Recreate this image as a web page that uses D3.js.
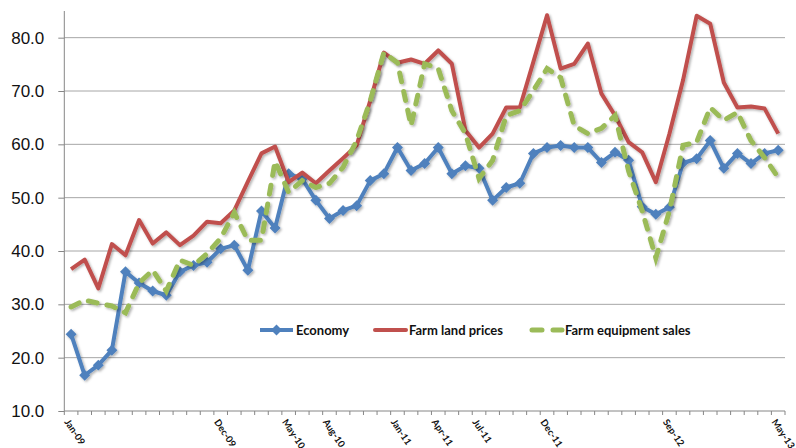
<!DOCTYPE html>
<html>
<head>
<meta charset="utf-8">
<script src="https://cdn.jsdelivr.net/npm/d3@7"></script>
<style>
  body { margin: 0; background: #fff; }
  svg { display: block; }
</style>
</head>
<body>
<div id="chart"></div>
<script>
// months Jan-09 .. May-13
const months = [
  "Jan-09","Feb-09","Mar-09","Apr-09","May-09","Jun-09","Jul-09","Aug-09","Sep-09","Oct-09","Nov-09","Dec-09",
  "Jan-10","Feb-10","Mar-10","Apr-10","May-10","Jun-10","Jul-10","Aug-10","Sep-10","Oct-10","Nov-10","Dec-10",
  "Jan-11","Feb-11","Mar-11","Apr-11","May-11","Jun-11","Jul-11","Aug-11","Sep-11","Oct-11","Nov-11","Dec-11",
  "Jan-12","Feb-12","Mar-12","Apr-12","May-12","Jun-12","Jul-12","Aug-12","Sep-12","Oct-12","Nov-12","Dec-12",
  "Jan-13","Feb-13","Mar-13","Apr-13","May-13"
];
const shownLabels = ["Jan-09","Dec-09","May-10","Aug-10","Jan-11","Apr-11","Jul-11","Dec-11","Sep-12","May-13"];

const economy = [
  24.4, 16.7, 18.6, 21.4, 36.1, 34.0, 32.5, 31.7, 36.1, 37.3, 37.9, 40.4,
  41.1, 36.4, 47.5, 44.3, 54.5, 53.5, 49.5, 46.1, 47.6, 48.5, 53.2, 54.5,
  59.4, 55.1, 56.4, 59.4, 54.5, 56.0, 55.5, 49.5, 51.9, 52.7, 58.3, 59.4,
  59.8, 59.4, 59.4, 56.6, 58.5, 57.0, 48.3, 46.9, 48.2, 56.5, 57.3, 60.7,
  55.5, 58.3, 56.4, 58.3, 58.9
];
const farmLand = [
  36.6, 38.4, 33.0, 41.3, 39.2, 45.8, 41.4, 43.5, 41.1, 42.9, 45.5, 45.2,
  47.6, 53.0, 58.3, 59.6, 52.9, 54.7, 52.7, 55.1, 57.4, 59.8, 68.2, 77.2,
  75.3, 75.9, 75.1, 77.6, 75.1, 62.6, 59.4, 62.0, 66.9, 66.9, 75.5, 84.2,
  74.2, 75.1, 78.9, 69.5, 65.4, 60.4, 58.5, 52.9, 62.0, 72.0, 84.1, 82.6,
  71.6, 66.9, 67.1, 66.7, 62.0
];
const farmEquipment = [
  29.5, 30.8, 30.2, 29.7, 28.4, 34.0, 36.4, 32.5, 38.3, 37.3, 39.5, 42.4,
  47.2, 42.0, 42.0, 56.8, 51.0, 53.2, 51.9, 52.7, 55.7, 60.7, 68.2, 77.2,
  75.3, 63.5, 75.1, 74.2, 66.3, 62.0, 53.6, 57.0, 65.4, 66.3, 70.1, 74.2,
  72.5, 63.5, 62.0, 63.0, 65.4, 55.0, 47.5, 38.7, 47.5, 59.8, 60.4, 66.9,
  64.5, 66.0, 60.7, 57.5, 53.8
];
const seriesNames = ["Economy", "Farm land prices", "Farm equipment sales"];
const yTicks = [10, 20, 30, 40, 50, 60, 70, 80];

const width = 796, height = 448;
const plot = { left: 64.3, right: 785, top: 11, bottom: 411 };

const svg = d3.select("#chart").append("svg")
    .attr("width", width)
    .attr("height", height)
    .style("font-family", "Lato, 'Open Sans', sans-serif");

// soft shadow like the excel line effect
svg.append("defs").append("filter")
    .attr("id", "shadow")
    .attr("x", "-5%").attr("y", "-5%")
    .attr("width", "110%").attr("height", "110%")
    .append("feDropShadow")
    .attr("dx", 1.5).attr("dy", 1.5)
    .attr("stdDeviation", 1.2)
    .attr("flood-color", "#000")
    .attr("flood-opacity", 0.3);

const x = d3.scaleBand()
    .domain(months)
    .range([plot.left, plot.right]);
const cx = m => x(m) + x.bandwidth() / 2;

const y = d3.scaleLinear()
    .domain([10, 85])
    .range([plot.bottom, plot.top]);

// gridlines
svg.append("g")
    .selectAll("line")
    .data(yTicks.filter(d => d > 10))
    .enter()
    .append("line")
    .attr("x1", plot.left)
    .attr("x2", plot.right)
    .attr("y1", d => y(d))
    .attr("y2", d => y(d))
    .attr("stroke", "#a6a6a6")
    .attr("stroke-width", 1);

// y axis
const yAxis = d3.axisLeft(y)
    .tickValues(yTicks)
    .tickFormat(d3.format(".1f"))
    .tickSize(6)
    .tickPadding(14);

const yg = svg.append("g")
    .attr("transform", `translate(${plot.left},0)`)
    .call(yAxis);
yg.select(".domain").remove();
yg.selectAll(".tick line").attr("stroke", "#868686");
yg.selectAll(".tick text")
    .attr("fill", "#111")
    .style("font-size", "17px");
yg.append("line")
    .attr("y1", y.range()[1])
    .attr("y2", y.range()[0])
    .attr("stroke", "#868686");

// x axis
const xg = svg.append("g");
xg.append("line")
    .attr("x1", plot.left)
    .attr("x2", plot.right)
    .attr("y1", plot.bottom)
    .attr("y2", plot.bottom)
    .attr("stroke", "#868686");
xg.selectAll(".xtick")
    .data(months.concat(["end"]))
    .enter()
    .append("line")
    .attr("class", "xtick")
    .attr("x1", (d, i) => i < months.length ? x(d) : plot.right)
    .attr("x2", (d, i) => i < months.length ? x(d) : plot.right)
    .attr("y1", plot.bottom)
    .attr("y2", plot.bottom + 4)
    .attr("stroke", "#868686");
xg.selectAll(".xlabel")
    .data(shownLabels)
    .enter()
    .append("text")
    .attr("class", "xlabel")
    .attr("transform", d => `translate(${cx(d) - 7},${plot.bottom + 11}) rotate(56)`)
    .attr("font-size", "9.5px")
    .attr("font-weight", "bold")
    .attr("fill", "#111")
    .text(d => d);

// lines
const line = d3.line()
    .x((d, i) => cx(months[i]))
    .y(d => y(d));

const diamond = d3.symbol().type(d3.symbolSquare).size(60);

const gEco = svg.append("g").attr("filter", "url(#shadow)");
gEco.append("path")
    .datum(economy)
    .attr("fill", "none")
    .attr("stroke", "#4f81bd")
    .attr("stroke-width", 4)
    .attr("stroke-linejoin", "round")
    .attr("d", line);
gEco.selectAll("path.marker")
    .data(economy)
    .enter()
    .append("path")
    .attr("class", "marker")
    .attr("d", diamond)
    .attr("transform", (d, i) => `translate(${cx(months[i])},${y(d)}) rotate(45)`)
    .attr("fill", "#4f81bd");

svg.append("path")
    .datum(farmLand)
    .attr("filter", "url(#shadow)")
    .attr("fill", "none")
    .attr("stroke", "#c0504d")
    .attr("stroke-width", 4)
    .attr("stroke-linejoin", "round")
    .attr("d", line);

svg.append("path")
    .datum(farmEquipment)
    .attr("filter", "url(#shadow)")
    .attr("fill", "none")
    .attr("stroke", "#9bbb59")
    .attr("stroke-width", 5)
    .attr("stroke-linecap", "round")
    .attr("stroke-dasharray", "9,10")
    .attr("d", line);

// legend
const legendY = 330;
const legendX = [260, 373, 529];
const legend = svg.append("g");

legend.append("line")
    .attr("x1", legendX[0]).attr("x2", legendX[0] + 33)
    .attr("y1", legendY).attr("y2", legendY)
    .attr("stroke", "#4f81bd").attr("stroke-width", 4);
legend.append("path")
    .attr("d", diamond)
    .attr("transform", `translate(${legendX[0] + 16.5},${legendY}) rotate(45)`)
    .attr("fill", "#4f81bd");

legend.append("line")
    .attr("x1", legendX[1] + 2).attr("x2", legendX[1] + 33)
    .attr("y1", legendY).attr("y2", legendY)
    .attr("stroke", "#c0504d").attr("stroke-width", 4)
    .attr("stroke-linecap", "round");

legend.append("line")
    .attr("x1", legendX[2] + 3).attr("x2", legendX[2] + 33)
    .attr("y1", legendY).attr("y2", legendY)
    .attr("stroke", "#9bbb59").attr("stroke-width", 5)
    .attr("stroke-linecap", "round")
    .attr("stroke-dasharray", "10,11");

legend.selectAll("text")
    .data(seriesNames)
    .enter()
    .append("text")
    .attr("x", (d, i) => legendX[i] + 36)
    .attr("y", legendY + 4.5)
    .attr("font-size", "13px")
    .attr("font-weight", "bold")
    .attr("fill", "#111")
    .text(d => d);
</script>
</body>
</html>
